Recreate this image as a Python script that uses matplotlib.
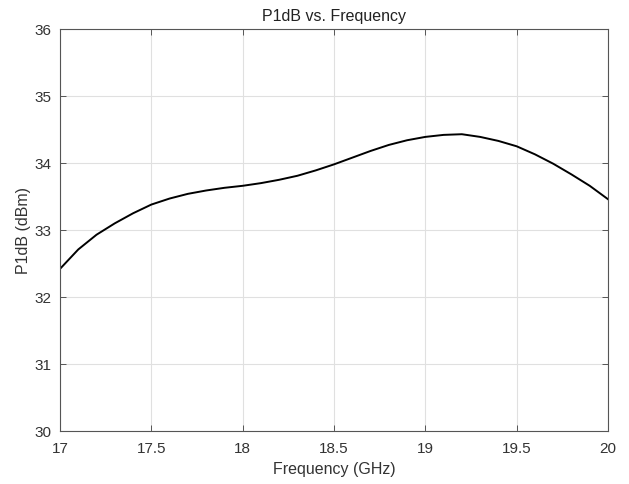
import matplotlib
matplotlib.use("Agg")
import matplotlib.pyplot as plt

plt.rcParams['font.family'] = ['Liberation Sans', 'DejaVu Sans']

# frequency points (GHz) and P1dB readings (dBm)
freq = [17.0, 17.1, 17.2, 17.3, 17.4, 17.5, 17.6, 17.7, 17.8, 17.9,
        18.0, 18.1, 18.2, 18.3, 18.4, 18.5, 18.6, 18.7, 18.8, 18.9,
        19.0, 19.1, 19.2, 19.3, 19.4, 19.5, 19.6, 19.7, 19.8, 19.9, 20.0]
p1db = [32.42, 32.71, 32.93, 33.10, 33.25, 33.38, 33.47, 33.54, 33.59, 33.63,
        33.66, 33.70, 33.75, 33.81, 33.89, 33.98, 34.08, 34.18, 34.27, 34.34,
        34.39, 34.42, 34.43, 34.39, 34.33, 34.25, 34.13, 33.99, 33.83, 33.66, 33.46]

xticks = [17, 17.5, 18, 18.5, 19, 19.5, 20]
xticklabels = ["17", "17.5", "18", "18.5", "19", "19.5", "20"]
yticks = [30, 31, 32, 33, 34, 35, 36]

fig = plt.figure(figsize=(6.29, 4.84), dpi=100)
ax = fig.add_axes([0.0954, 0.1095, 0.8712, 0.8305])

ax.plot(freq, p1db, color="black", linewidth=1.4)

ax.set_xlim(17, 20)
ax.set_ylim(30, 36)
ax.set_xticks(xticks)
ax.set_xticklabels(xticklabels)
ax.set_yticks(yticks)

ax.grid(True, color="#e0e0e0", linewidth=0.8)
ax.set_axisbelow(True)

for s in ax.spines.values():
    s.set_color("#555555")
    s.set_linewidth(0.8)
ax.tick_params(direction="in", top=True, right=True, length=4, width=0.7,
               colors="#555555", labelcolor="#333333", labelsize=11)
ax.tick_params(axis="x", pad=8)
ax.tick_params(axis="y", pad=6)

ax.set_title("P1dB vs. Frequency", fontsize=11.5, color="#222222", pad=6)
ax.set_xlabel("Frequency (GHz)", fontsize=11.5, color="#333333", labelpad=4)
ax.set_ylabel("P1dB (dBm)", fontsize=11.5, color="#333333", labelpad=3)

fig.savefig("out.png", dpi=100, facecolor="white")
